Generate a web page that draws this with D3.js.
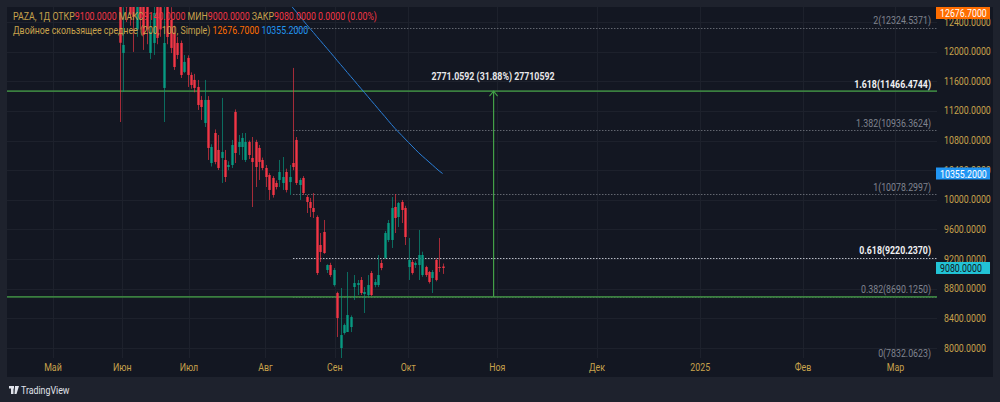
<!DOCTYPE html>
<html>
<head>
<meta charset="utf-8">
<script src="https://cdn.jsdelivr.net/npm/d3@7"></script>
<style>
  body { margin: 0; background: #1e222d; }
  svg { display: block; font-family: Roboto, "Noto Sans", sans-serif; }
</style>
</head>
<body>
<script>
// ---- data ----
var firstBar = 19;   // bar index of the first visible candle (0 = 1 May)
var opens = [12800,11982,12900,12850,12800,12300,12900,12750,12650,11982,12117,12700,12600,11510,12750,12428,12252,12117,12117,11726,
  11915,11685,11618,11523,11348,11037,11348,10497,10902,10673,10565,10538,10443,10470,11186,10713,10713,10538,10781,10565,
  10781,10700,10538,10430,10335,10295,10227,10268,10227,10376,10240,10497,10808,10200,10295,10038,9971,9890,9768,9390,
  9566,9053,9120,8850,8742,8000,8202,8216,8283,8823,8850,8918,8729,8715,9012,8850,8850,9147,9215,9458,
  9458,9903,9768,9971,9890,9093,9161,9120,9120,8985,9093,9026,8945,9188,9093,9100];
var highs = [12950,12600,13000,13000,12900,12900,13000,12900,12800,12500,12700,12800,12750,12900,12900,12600,12350,12200,12150,11955,
  11950,11720,11700,11618,11400,11618,11400,10750,10950,10875,11375,10673,10520,10808,11220,10875,10902,10902,10800,10848,
  10810,10740,10570,10470,10360,10320,10260,10538,10578,10420,10470,11780,10848,10295,10320,10065,10025,10092,9790,9552,
  9728,9130,9150,9080,8760,8810,8330,9026,8440,8985,8918,8958,8823,8985,9040,8930,9255,9188,9580,9728,
  10038,10078,9971,9998,9920,9485,9190,9170,9593,9300,9110,9040,9053,9210,9485,9140];
var lows = [11050,11456,12400,12350,11996,12200,12300,12023,12100,11900,11955,12100,12200,11050,12100,11980,11753,11900,11645,11710,
  11523,11500,11450,11213,11078,10983,10538,10450,10480,10403,10227,10241,10400,10430,10497,10605,10538,10510,10550,9903,
  10173,10268,10400,10173,9998,10030,10140,10173,10133,10100,10065,10400,10200,9998,10065,9822,9768,9755,8985,9161,
  9270,9012,8960,8830,8148,7832,8180,8216,8215,8648,8715,8715,8472,8688,8700,8820,8823,9050,9200,9430,
  9350,9552,9633,9687,9390,8918,8990,9080,8918,8960,8960,8870,8742,8900,9026,9000];
var closes = [12120,12090,12600,12500,12468,12700,12450,12225,12300,12266,12522,12185,12300,12117,12198,12050,11793,11955,11685,11861,
  11685,11550,11510,11280,11253,11348,10700,10713,10511,10430,10646,10308,10470,10740,10632,10781,10835,10781,10605,10511,
  10443,10511,10430,10308,10133,10065,10173,10376,10308,10133,10308,10443,10227,10268,10092,9971,9890,9836,9012,9296,
  9282,9120,8985,9053,8405,8175,8310,8445,8418,8877,8877,8742,8756,8850,8715,8890,8985,9080,9552,9687,
  9890,9755,9957,9863,9498,9188,9012,9147,9255,9255,8985,8891,9026,8918,9080,9080];

// moving average (100) line, starting at bar 68
var maFirstBar = 68;
var maValues = [12700,12646,12590,12534,12476,12421,12366,12312,12259,12204,12151,12097,12044,11990,11936,11880,11826,11773,11718,11664,
  11611,11556,11502,11449,11395,11340,11287,11232,11178,11125,11070,11016,10964,10916,10869,10821,10774,10727,10680,10634,
  10592,10552,10511,10471,10430,10390,10355.2];

// axes
var priceTicks = [8000, 8400, 8800, 9200, 9600, 10000, 10400, 10800, 11200, 11600, 12000, 12400];
var monthLabels = ["Май", "Июн", "Июл", "Авг", "Сен", "Окт", "Ноя", "Дек", "2025", "Фев", "Мар"];
var monthBars = [-0.6, 19.8, 39.4, 61.9, 82.3, 103.9, 130.1, 159.4, 189.8, 220, 247.2];

// fibonacci levels
var fibRatios = ["2", "1.618", "1.382", "1", "0.618", "0.382", "0"];
var fibPrices = [12324.5371, 11466.4744, 10936.3624, 10078.2997, 9220.2370, 8690.1250, 7832.0623];
var fibStartBar = 70;

// horizontal lines + measure
var hLines = [11466.4744, 8690.1250];
var measureBar = 128.8;
var measureText = "2771.0592 (31.88%) 27710592";

// last values
var maLong = 12676.7, maShort = 10355.2, lastClose = 9080;

// ---- layout ----
var width = 1000, height = 402;
var plot = {left: 7, top: 7, right: 937, bottom: 358};
var gold = "#c8a24c", red = "#f23645", green = "#089981", lineGreen = "#3a7f3f";

var svg = d3.select("body").append("svg").attr("width", width).attr("height", height);

svg.append("rect").attr("width", width).attr("height", height).attr("fill", "#1e222d");
svg.append("rect").attr("x", 7).attr("y", 7).attr("width", 986).attr("height", 370)
  .attr("fill", "#131722");

var x = d3.scaleLinear().domain([0, 247.2]).range([55, 895.4]);
var y = d3.scaleLinear().domain([8000, 12400]).range([348, 22]);

svg.append("clipPath").attr("id", "clip").append("rect")
  .attr("x", plot.left).attr("y", plot.top)
  .attr("width", plot.right - plot.left).attr("height", plot.bottom - plot.top);

function label(sel, px, py, anchor) {
  return sel.append("text")
    .attr("transform", "translate(" + px + "," + py + ") scale(0.8,1)")
    .attr("text-anchor", anchor || "start")
    .style("font-size", "11px");
}

//gridlines
var grid = svg.append("g");
grid.selectAll(".hg").data(priceTicks).enter().append("line")
  .attr("x1", plot.left).attr("x2", plot.right)
  .attr("y1", function(d) { return Math.round(y(d)) + 0.5; })
  .attr("y2", function(d) { return Math.round(y(d)) + 0.5; })
  .attr("stroke", "#1d212c");
grid.selectAll(".vg").data(monthBars).enter().append("line")
  .attr("x1", function(d) { return Math.round(x(d)) + 0.5; })
  .attr("x2", function(d) { return Math.round(x(d)) + 0.5; })
  .attr("y1", plot.top).attr("y2", plot.bottom)
  .attr("stroke", "#1d212c");

var g = svg.append("g").attr("clip-path", "url(#clip)");

// fib dotted lines
var fibStyle = {"2": "#62666f", "1.618": "#62666f", "1.382": "#62666f", "1": "#62666f", "0.618": "#b8bcc6", "0.382": "#62666f", "0": "#62666f"};
g.selectAll(".fib").data(fibPrices).enter().append("line")
  .attr("x1", x(fibStartBar)).attr("x2", plot.right)
  .attr("y1", function(d) { return Math.round(y(d)) + 0.5; })
  .attr("y2", function(d) { return Math.round(y(d)) + 0.5; })
  .attr("stroke", function(d, i) { return fibStyle[fibRatios[i]]; })
  .attr("stroke-dasharray", "1.5,1.5");

// horizontal green lines
g.selectAll(".hl").data(hLines).enter().append("line")
  .attr("x1", plot.left).attr("x2", plot.right)
  .attr("y1", function(d) { return y(d); })
  .attr("y2", function(d) { return y(d); })
  .attr("stroke", lineGreen).attr("stroke-width", 1.6);

// candles
var bars = opens.map(function(o, i) {
  return {i: firstBar + i, o: o, h: highs[i], l: lows[i], c: closes[i]};
});
var cg = g.append("g");
cg.selectAll(".wick").data(bars).enter().append("line")
  .attr("x1", function(d) { return Math.round(x(d.i)) + 0.5; })
  .attr("x2", function(d) { return Math.round(x(d.i)) + 0.5; })
  .attr("y1", function(d) { return y(d.h); })
  .attr("y2", function(d) { return y(d.l); })
  .attr("stroke", function(d) { return d.c >= d.o ? green : red; })
  .attr("stroke-opacity", 0.65);
cg.selectAll(".body").data(bars).enter().append("rect")
  .attr("x", function(d) { return Math.round(x(d.i)) - 0.7; })
  .attr("width", 2.4)
  .attr("y", function(d) { return y(Math.max(d.o, d.c)); })
  .attr("height", function(d) { return Math.max(1, Math.abs(y(d.o) - y(d.c))); })
  .attr("fill", function(d) { return d.c >= d.o ? green : red; });

// moving average
var line = d3.line()
  .x(function(d, i) { return x(maFirstBar + i); })
  .y(function(d) { return y(d); });
g.append("path").datum(maValues).attr("d", line)
  .attr("fill", "none").attr("stroke", "#2a7fd8").attr("stroke-width", 1);

// measure arrow
var mx = Math.round(x(measureBar));
g.append("rect").attr("x", mx).attr("width", 1.2)
  .attr("y", y(hLines[0])).attr("height", y(hLines[1]) - y(hLines[0]))
  .attr("fill", "#43a047");
g.append("path")
  .attr("d", "M" + (mx - 3.5) + "," + (y(hLines[0]) + 5) + "L" + (mx + 0.6) + "," + y(hLines[0]) + "L" + (mx + 4.6) + "," + (y(hLines[0]) + 5))
  .attr("fill", "none").attr("stroke", "#43a047").attr("stroke-width", 1.1);
label(svg, mx, 79.5, "middle").attr("fill", "#e8e8ea").style("font-weight", "bold").text(measureText);

// fib labels
fibPrices.forEach(function(p, i) {
  var r = fibRatios[i];
  var strong = (r === "1.618" || r === "0.618");
  label(svg, 931, y(p) - 3.5, "end")
    .attr("fill", strong ? "#f0f0f2" : "#80848f")
    .style("font-weight", strong ? "bold" : "normal")
    .text(r + "(" + d3.format(".4f")(p) + ")");
});

// price axis
priceTicks.forEach(function(p) {
  label(svg, 944, y(p) + 3.5, "start").attr("fill", gold).text(d3.format(".4f")(p));
});

function priceBox(value, cy, fill, textFill) {
  svg.append("rect").attr("x", 936).attr("y", cy - 6).attr("width", 54).attr("height", 12)
    .attr("fill", fill);
  label(svg, 940, cy + 4, "start").attr("fill", textFill).text(d3.format(".4f")(value));
}
priceBox(maLong, 13, "#ff6d00", "#ffffff");
priceBox(maShort, y(maShort), "#2196f3", "#ffffff");
priceBox(lastClose, y(lastClose), "#22c3d6", "#131722");

// time axis
monthLabels.forEach(function(m, i) {
  label(svg, x(monthBars[i]), 371, "middle").attr("fill", gold).text(m);
});

// legend header
var h1 = label(svg, 13, 20, "start").attr("fill", gold);
h1.append("tspan").text("PAZA, 1Д  ОТКР");
h1.append("tspan").attr("fill", red).text(d3.format(".4f")(opens[opens.length - 1]));
h1.append("tspan").text("  МАКС");
h1.append("tspan").attr("fill", red).text(d3.format(".4f")(highs[highs.length - 1]));
h1.append("tspan").text("  МИН");
h1.append("tspan").attr("fill", red).text(d3.format(".4f")(lows[lows.length - 1]));
h1.append("tspan").text("  ЗАКР");
h1.append("tspan").attr("fill", red).text(d3.format(".4f")(closes[closes.length - 1]) + "  0.0000 (0.00%)");

var h2 = label(svg, 13, 33.5, "start").attr("fill", gold);
h2.append("tspan").text("Двойное скользящее среднее (200, 100, Simple)  ");
h2.append("tspan").attr("fill", "#ff6d00").text(d3.format(".4f")(maLong) + "  ");
h2.append("tspan").attr("fill", "#2196f3").text(d3.format(".4f")(maShort));

// tradingview logo
var logo = svg.append("g").attr("fill", "#e0e3eb");
logo.append("rect").attr("x", 9).attr("y", 386).attr("width", 5).attr("height", 2.5);
logo.append("rect").attr("x", 11).attr("y", 386).attr("width", 2.5).attr("height", 8);
logo.append("path").attr("d", "M15,386 L19,386 L16.5,394 L14.5,394 Z");
label(svg, 21, 394, "start").attr("fill", "#e0e3eb").style("font-size", "11px").text("TradingView");
</script>
</body>
</html>
